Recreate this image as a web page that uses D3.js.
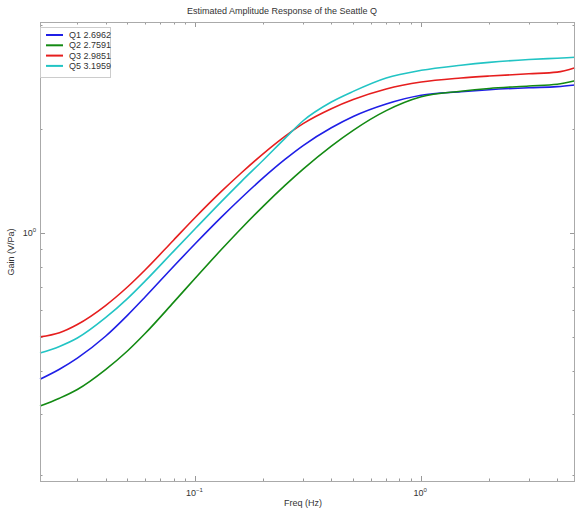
<!DOCTYPE html>
<html>
<head>
<meta charset="utf-8">
<script src="https://cdn.jsdelivr.net/npm/d3@7"></script>
<style>
  body { margin: 0; background: #fff; }
  svg { font-family: "Liberation Sans", Arial, sans-serif; }
</style>
</head>
<body>
<div id="chart"></div>
<script>
// frequencies (Hz) shared by all series
const freqs = [0.0205, 0.025, 0.03, 0.04, 0.05, 0.06, 0.08, 0.1, 0.13, 0.16, 0.2, 0.25,
               0.3, 0.4, 0.5, 0.7, 1.0, 1.5, 2, 3, 4, 4.8];

// gain (V/Pa)
const q1 = [0.378, 0.404, 0.435, 0.503, 0.578, 0.654, 0.800, 0.932, 1.109, 1.264, 1.445, 1.634,
            1.789, 2.013, 2.170, 2.358, 2.499, 2.559, 2.594, 2.629, 2.647, 2.677];
const q2 = [0.316, 0.333, 0.353, 0.403, 0.456, 0.513, 0.630, 0.741, 0.894, 1.032, 1.196, 1.375,
            1.530, 1.783, 1.980, 2.257, 2.475, 2.568, 2.616, 2.659, 2.689, 2.754];
const q3 = [0.501, 0.515, 0.544, 0.617, 0.698, 0.783, 0.953, 1.110, 1.316, 1.493, 1.696, 1.905,
            2.070, 2.286, 2.429, 2.606, 2.730, 2.804, 2.841, 2.883, 2.916, 3.003];
const q5 = [0.450, 0.470, 0.497, 0.569, 0.646, 0.727, 0.885, 1.030, 1.230, 1.410, 1.625, 1.880,
            2.110, 2.390, 2.565, 2.804, 2.951, 3.053, 3.111, 3.170, 3.199, 3.218];

const seriesNames = ["Q1 2.6962", "Q2 2.7591", "Q3 2.9851", "Q5 3.1959"];
const seriesColors = ["#1f1fe6", "#138a13", "#e61e1e", "#22c4c4"];
const seriesValues = [q1, q2, q3, q5];

const xMajor = [0.1, 1];
const yMajor = [1];

const W = 576, H = 512;
const margin = {top: 22, right: 1, bottom: 31, left: 40};

const svg = d3.select("#chart").append("svg")
    .attr("width", W)
    .attr("height", H);

const x = d3.scaleLog().domain([0.0205, 4.8]).range([margin.left, W - margin.right]);
const y = d3.scaleLog().domain([0.192, 4.07]).range([H - margin.bottom, margin.top]);

const x0 = x.range()[0], x1 = x.range()[1], y0 = y.range()[0], y1 = y.range()[1];

// minor ticks
const xMinor = [];
[0.01, 0.1, 1].forEach(d => { for (let k = 2; k <= 9; k++) xMinor.push(d * k); });
const xMinorIn = xMinor.filter(v => v >= 0.0205 && v <= 4.8);
const yMinor = [];
[0.1, 1].forEach(d => { for (let k = 2; k <= 9; k++) yMinor.push(d * k); });
const yMinorIn = yMinor.filter(v => v >= 0.192 && v <= 4.07);

const tickCol = "#999";
const ticks = svg.append("g").attr("stroke", tickCol).attr("stroke-width", 1);

function xTicks(vals, len) {
  vals.forEach(v => {
    const px = Math.round(x(v)) + 0.5;
    ticks.append("line").attr("x1", px).attr("x2", px).attr("y1", y0).attr("y2", y0 - len);
    ticks.append("line").attr("x1", px).attr("x2", px).attr("y1", y1).attr("y2", y1 + len);
  });
}
function yTicks(vals, len) {
  vals.forEach(v => {
    const py = Math.round(y(v)) + 0.5;
    ticks.append("line").attr("x1", x0).attr("x2", x0 + len).attr("y1", py).attr("y2", py);
    ticks.append("line").attr("x1", x1).attr("x2", x1 - len).attr("y1", py).attr("y2", py);
  });
}
xTicks(xMajor, 5); xTicks(xMinorIn, 2.5);
yTicks(yMajor, 5); yTicks(yMinorIn, 2.5);

// lines
const line = d3.line()
    .x((d, i) => x(freqs[i]))
    .y(d => y(d))
    .curve(d3.curveMonotoneX);

const plot = svg.append("g");
seriesValues.forEach((vals, i) => {
  plot.append("path")
      .datum(vals)
      .attr("fill", "none")
      .attr("stroke", seriesColors[i])
      .attr("stroke-width", 1.6)
      .attr("d", line);
});

// frame
svg.append("rect")
    .attr("x", x0 + 0.5).attr("y", y1 + 0.5)
    .attr("width", x1 - x0 - 1).attr("height", y0 - y1)
    .attr("fill", "none")
    .attr("stroke", "#aaa")
    .attr("stroke-width", 1);

// tick labels
const txtCol = "#333";
function powLabel(g, px, py, exp, anchor) {
  const t = g.append("text")
      .attr("x", px).attr("y", py)
      .attr("text-anchor", anchor)
      .attr("font-size", 9)
      .attr("fill", txtCol);
  t.append("tspan").text("10");
  t.append("tspan").attr("dy", -4).attr("font-size", 6).text(exp);
}
const labels = svg.append("g");
xMajor.forEach(v => powLabel(labels, x(v) - 1, y0 + 15, Math.round(Math.log10(v)) === 0 ? "0" : "\u22121", "middle"));
yMajor.forEach(v => powLabel(labels, x0 - 4, y(v) + 3, "0", "end"));

// titles
svg.append("text")
    .attr("x", 282).attr("y", 14)
    .attr("text-anchor", "middle")
    .attr("font-size", 9)
    .attr("fill", txtCol)
    .text("Estimated Amplitude Response of the Seattle Q");

svg.append("text")
    .attr("x", 303).attr("y", 506)
    .attr("text-anchor", "middle")
    .attr("font-size", 9)
    .attr("fill", txtCol)
    .text("Freq (Hz)");

svg.append("text")
    .attr("transform", "translate(14," + 252 + ") rotate(-90)")
    .attr("text-anchor", "middle")
    .attr("font-size", 9)
    .attr("fill", txtCol)
    .text("Gain (V/Pa)");

// legend
const leg = svg.append("g").attr("transform", "translate(40,27)");
leg.append("rect")
    .attr("x", 0.5).attr("y", 0.5)
    .attr("width", 70).attr("height", 50)
    .attr("fill", "#fff")
    .attr("stroke", "#ccc");
seriesNames.forEach((name, i) => {
  const ly = 8 + i * 10.3;
  leg.append("line")
      .attr("x1", 6).attr("x2", 23)
      .attr("y1", ly).attr("y2", ly)
      .attr("stroke", seriesColors[i])
      .attr("stroke-width", 2);
  leg.append("text")
      .attr("x", 29).attr("y", ly + 3)
      .attr("font-size", 9)
      .attr("fill", txtCol)
      .text(name);
});
</script>
</body>
</html>
